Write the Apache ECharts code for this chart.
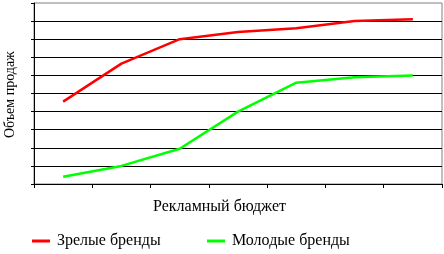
<!DOCTYPE html>
<html>
<head>
<meta charset="utf-8">
<script src="https://cdn.jsdelivr.net/npm/echarts@6/dist/echarts.min.js"></script>
<style>
html,body{margin:0;padding:0;background:#fff;}
#chart{width:444px;height:254px;}
</style>
</head>
<body>
<div id="chart"></div>
<script>
const categories = ['1','2','3','4','5','6','7'];
const matureBrands = [4.55, 6.65, 8.0, 8.4, 8.6, 9.0, 9.1];
const youngBrands = [0.4, 1.0, 1.95, 4.0, 5.6, 5.9, 6.0];
const seriesNames = ['Зрелые бренды', 'Молодые бренды'];
const xTitle = 'Рекламный бюджет';
const yTitle = 'Объем продаж';

const font = 'Liberation Serif';
const chart = echarts.init(document.getElementById('chart'), null, {renderer: 'canvas'});
chart.setOption({
  animation: false,
  backgroundColor: '#fff',
  grid: {left: 34, top: 3, right: 2, bottom: 70, show: true, borderColor: '#808080', borderWidth: 1},
  xAxis: {
    type: 'category', data: categories, boundaryGap: true,
    axisLine: {lineStyle: {color: '#000', width: 1}},
    axisTick: {show: true, length: 4, lineStyle: {color: '#000'}},
    axisLabel: {show: false},
    splitLine: {show: false}
  },
  yAxis: {
    type: 'value', min: 0, max: 10, interval: 1,
    axisLine: {show: true, lineStyle: {color: '#000', width: 1}},
    axisTick: {show: true, length: 3, lineStyle: {color: '#000'}},
    axisLabel: {show: false},
    splitLine: {show: true, showMaxLine: false, showMinLine: false, lineStyle: {color: '#000', width: 1}}
  },
  legend: [
    {data: [seriesNames[0]], left: 32, top: 233, padding: 0, icon: 'rect', itemWidth: 18, itemHeight: 3,
     textStyle: {fontFamily: font, fontSize: 16, color: '#000', padding: [0, 0, 0, 2]}},
    {data: [seriesNames[1]], left: 207, top: 233, padding: 0, icon: 'rect', itemWidth: 18, itemHeight: 3,
     textStyle: {fontFamily: font, fontSize: 16, color: '#000', padding: [0, 0, 0, 2]}}
  ],
  graphic: [
    {type: 'text', left: 153, top: 199, style: {text: xTitle, font: '16px "Liberation Serif"', fill: '#000'}},
    {type: 'text', x: 3, y: 138, rotation: Math.PI / 2, style: {text: yTitle, font: '14px "Liberation Serif"', fill: '#000'}}
  ],
  series: [
    {name: seriesNames[0], type: 'line', data: matureBrands, showSymbol: false, symbol: 'none',
     lineStyle: {color: '#ff0000', width: 2.5}, itemStyle: {color: '#ff0000'}},
    {name: seriesNames[1], type: 'line', data: youngBrands, showSymbol: false, symbol: 'none',
     lineStyle: {color: '#00ff00', width: 2.5}, itemStyle: {color: '#00ff00'}}
  ]
});
</script>
</body>
</html>
